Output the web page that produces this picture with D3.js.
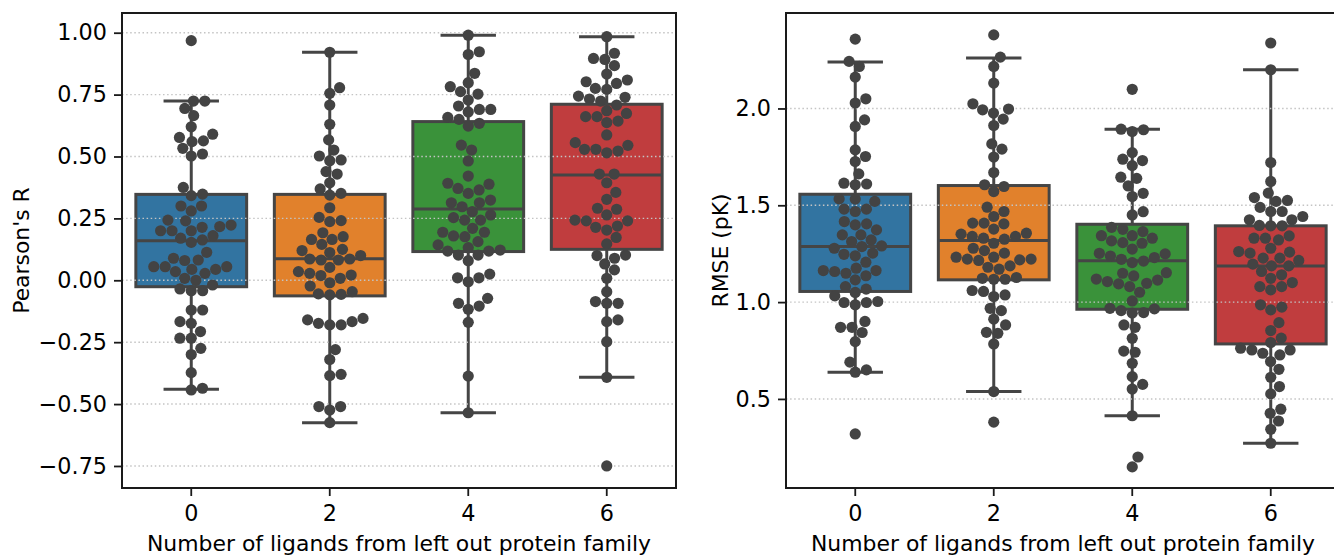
<!DOCTYPE html>
<html><head><meta charset="utf-8">
<script src="https://cdn.jsdelivr.net/npm/d3@7"></script>
<style>
body{margin:0;background:#fff}
svg{display:block}
text{font-family:"DejaVu Sans",sans-serif;fill:#000}
</style>
</head><body>
<svg id="chart" width="1334" height="558"></svg>
<script>
const categories = ["0", "2", "4", "6"];
const boxColors = ["#3274a1", "#e1812c", "#3a923a", "#c03d3e"];
const pearsonTicks = [-0.75, -0.5, -0.25, 0, 0.25, 0.5, 0.75, 1.0];
const rmseTicks = [0.5, 1.0, 1.5, 2.0];
const xLabel = "Number of ligands from left out protein family";

const pearson0 = [0.968,0.724,0.724,0.694,0.665,0.62,0.59,0.577,0.563,0.56,0.533,0.51,0.502,0.375,0.348,0.342,0.30,0.30,0.28,0.243,0.24,0.223,0.217,0.214,0.20,0.20,0.20,0.18,0.17,0.163,0.153,0.113,0.089,0.082,0.08,0.055,0.055,0.055,0.044,0.044,0.035,0.028,0.008,0.0,-0.019,-0.035,-0.042,-0.042,-0.12,-0.12,-0.167,-0.174,-0.207,-0.234,-0.234,-0.275,-0.30,-0.373,-0.436,-0.443];
const pearson2 = [0.921,0.778,0.755,0.708,0.63,0.567,0.526,0.502,0.486,0.483,0.439,0.429,0.394,0.369,0.351,0.344,0.293,0.254,0.241,0.237,0.192,0.176,0.165,0.165,0.145,0.125,0.12,0.112,0.1,0.086,0.086,0.082,0.082,0.052,0.035,0.028,0.021,0.019,0.008,-0.01,-0.023,-0.046,-0.055,-0.057,-0.059,-0.154,-0.16,-0.167,-0.174,-0.18,-0.18,-0.28,-0.32,-0.38,-0.385,-0.51,-0.51,-0.524,-0.575];
const pearson4 = [0.99,0.923,0.912,0.836,0.798,0.782,0.762,0.752,0.728,0.704,0.69,0.69,0.68,0.658,0.65,0.634,0.623,0.546,0.526,0.482,0.421,0.392,0.388,0.371,0.365,0.351,0.324,0.313,0.313,0.297,0.277,0.264,0.253,0.243,0.243,0.21,0.194,0.194,0.179,0.176,0.156,0.143,0.132,0.122,0.118,0.118,0.102,0.102,0.079,0.025,0.01,0.01,-0.006,-0.073,-0.093,-0.104,-0.117,-0.17,-0.387,-0.535];
const pearson6 = [0.984,0.917,0.896,0.892,0.867,0.833,0.809,0.802,0.795,0.775,0.771,0.744,0.739,0.732,0.724,0.708,0.685,0.674,0.661,0.661,0.643,0.637,0.587,0.556,0.545,0.529,0.529,0.522,0.515,0.429,0.429,0.394,0.355,0.327,0.291,0.287,0.264,0.243,0.24,0.24,0.219,0.214,0.203,0.173,0.147,0.102,0.1,0.089,0.066,0.042,0.008,-0.046,-0.086,-0.093,-0.093,-0.16,-0.167,-0.248,-0.392,-0.75];

const rmse0 = [2.358,2.243,2.217,2.162,2.05,2.028,1.941,1.907,1.786,1.752,1.726,1.662,1.614,1.61,1.606,1.533,1.532,1.52,1.48,1.48,1.468,1.416,1.404,1.399,1.373,1.347,1.347,1.321,1.313,1.29,1.287,1.278,1.253,1.247,1.239,1.206,1.175,1.163,1.163,1.158,1.149,1.136,1.115,1.08,1.067,1.05,1.032,1.003,0.998,0.998,0.986,0.9,0.87,0.87,0.843,0.796,0.69,0.65,0.638,0.319];
const rmse2 = [2.38,2.265,2.217,2.131,2.024,1.997,1.993,1.976,1.945,1.912,1.817,1.79,1.749,1.669,1.606,1.597,1.571,1.49,1.468,1.442,1.408,1.408,1.404,1.377,1.356,1.351,1.339,1.339,1.33,1.325,1.304,1.278,1.266,1.253,1.232,1.232,1.222,1.222,1.218,1.215,1.187,1.18,1.17,1.127,1.123,1.118,1.118,1.06,1.055,1.037,1.029,0.968,0.956,0.912,0.882,0.844,0.839,0.784,0.538,0.38];
const rmse4 = [2.099,1.893,1.89,1.881,1.772,1.738,1.731,1.705,1.645,1.639,1.6,1.562,1.545,1.467,1.45,1.386,1.376,1.364,1.343,1.343,1.33,1.316,1.307,1.304,1.274,1.252,1.249,1.238,1.23,1.221,1.212,1.204,1.152,1.149,1.135,1.119,1.114,1.106,1.097,1.094,1.08,1.051,1.006,0.968,0.965,0.956,0.946,0.943,0.882,0.87,0.813,0.747,0.741,0.684,0.615,0.575,0.551,0.413,0.2,0.149];
const rmse6 = [2.338,2.2,1.721,1.623,1.563,1.54,1.525,1.52,1.489,1.468,1.468,1.442,1.425,1.425,1.396,1.394,1.394,1.342,1.33,1.33,1.321,1.278,1.261,1.258,1.253,1.227,1.227,1.215,1.196,1.187,1.187,1.158,1.141,1.123,1.101,1.08,1.08,1.063,0.986,0.974,0.96,0.894,0.853,0.814,0.791,0.762,0.753,0.753,0.736,0.727,0.693,0.653,0.612,0.564,0.526,0.447,0.426,0.386,0.343,0.271];

// box statistics
const pearsonQ1  = [-0.026, -0.063, 0.116, 0.125];
const pearsonMed = [0.16, 0.087, 0.288, 0.425];
const pearsonQ3  = [0.347, 0.347, 0.641, 0.711];
const pearsonLo  = [-0.44, -0.575, -0.535, -0.392];
const pearsonHi  = [0.724, 0.921, 0.99, 0.984];

const rmseQ1  = [1.055, 1.115, 0.963, 0.784];
const rmseMed = [1.287, 1.318, 1.214, 1.187];
const rmseQ3  = [1.557, 1.602, 1.402, 1.394];
const rmseLo  = [0.638, 0.538, 0.413, 0.271];
const rmseHi  = [2.24, 2.26, 1.893, 2.2];

const svg = d3.select("#chart");
const LINE = "#454545", POINT = "#434343";

function swarm(values, cx, y, r) {
  const sorted = values.slice().sort((a, b) => a - b);
  const placed = [];
  const d = 2 * r;
  for (const v of sorted) {
    const py = y(v);
    const nb = placed.filter(p => Math.abs(p.y - py) < d);
    const cands = [cx];
    for (const n of nb) {
      const dy = py - n.y;
      const dx = Math.sqrt(Math.max(0, d * d - dy * dy));
      cands.push(n.x + dx, n.x - dx);
    }
    cands.sort((a, b) => Math.abs(a - cx) - Math.abs(b - cx));
    let chosen = cands[cands.length - 1];
    for (const c of cands) {
      if (nb.every(n => Math.hypot(n.x - c, n.y - py) >= d - 1e-6)) { chosen = c; break; }
    }
    placed.push({ x: chosen, y: py, v });
  }
  return placed;
}

function panel(o) {
  const g = svg.append("g");
  const x = d3.scaleBand().domain(categories).range([o.x0, o.x1]).paddingInner(0).paddingOuter(0);
  const y = d3.scaleLinear().domain(o.domain).range([o.y1, o.y0]);
  const bw = x.bandwidth() * 0.8;
  const cx = c => x(c) + x.bandwidth() / 2;

  categories.forEach((c, i) => {
    const xc = cx(c);
    g.append("line").attr("x1", xc).attr("x2", xc).attr("y1", y(o.q3[i])).attr("y2", y(o.hi[i]))
      .attr("stroke", LINE).attr("stroke-width", 3);
    g.append("line").attr("x1", xc).attr("x2", xc).attr("y1", y(o.q1[i])).attr("y2", y(o.lo[i]))
      .attr("stroke", LINE).attr("stroke-width", 3);
    [o.hi[i], o.lo[i]].forEach(v => {
      g.append("line").attr("x1", xc - bw / 4).attr("x2", xc + bw / 4).attr("y1", y(v)).attr("y2", y(v))
        .attr("stroke", LINE).attr("stroke-width", 3);
    });
    g.append("rect").attr("x", xc - bw / 2).attr("width", bw)
      .attr("y", y(o.q3[i])).attr("height", y(o.q1[i]) - y(o.q3[i]))
      .attr("fill", boxColors[i]).attr("stroke", LINE).attr("stroke-width", 3);
    g.append("line").attr("x1", xc - bw / 2).attr("x2", xc + bw / 2).attr("y1", y(o.med[i])).attr("y2", y(o.med[i]))
      .attr("stroke", LINE).attr("stroke-width", 3);
  });

  g.append("g").selectAll("line").data(o.ticks).join("line")
    .attr("x1", o.x0).attr("x2", o.x1).attr("y1", d => y(d)).attr("y2", d => y(d))
    .attr("stroke", "#c4c4c4").attr("stroke-width", 1.4).attr("stroke-dasharray", "1.5,2.6");

  o.series.forEach((vals, i) => {
    const pts = swarm(vals, cx(categories[i]), y, 5.7);
    g.append("g").selectAll("circle").data(pts).join("circle")
      .attr("cx", d => d.x).attr("cy", d => d.y).attr("r", 5.6).attr("fill", POINT);
  });

  g.append("rect").attr("x", o.x0).attr("y", o.y0).attr("width", o.x1 - o.x0).attr("height", o.y1 - o.y0)
    .attr("fill", "none").attr("stroke", "#1a1a1a").attr("stroke-width", 2);

  const ya = g.append("g").attr("transform", `translate(${o.x0},0)`)
    .call(d3.axisLeft(y).tickValues(o.ticks).tickFormat(d3.format(o.fmt)).tickSize(8).tickPadding(7));
  ya.select(".domain").remove();
  ya.selectAll(".tick line").attr("stroke", "#1a1a1a").attr("stroke-width", 1.8);
  ya.selectAll(".tick text").attr("font-size", 22.3).attr("font-family", "DejaVu Sans");

  const xa = g.append("g").attr("transform", `translate(0,${o.y1})`)
    .call(d3.axisBottom(x).tickSize(8).tickPadding(9));
  xa.select(".domain").remove();
  xa.selectAll(".tick line").attr("stroke", "#1a1a1a").attr("stroke-width", 1.8);
  xa.selectAll(".tick text").attr("font-size", 22.3).attr("font-family", "DejaVu Sans");

  g.append("text").attr("x", (o.x0 + o.x1) / 2).attr("y", 551)
    .attr("text-anchor", "middle").attr("font-size", 21.9).text(xLabel);
  g.append("text").attr("transform", `translate(${o.ylx},${(o.y0 + o.y1) / 2}) rotate(-90)`)
    .attr("text-anchor", "middle").attr("dominant-baseline", "central").attr("font-size", 21.9).text(o.ylabel);
}

panel({ x0: 122, x1: 676, y0: 13, y1: 488, domain: [-0.839, 1.0796], ticks: pearsonTicks, fmt: ".2f",
  series: [pearson0, pearson2, pearson4, pearson6],
  q1: pearsonQ1, med: pearsonMed, q3: pearsonQ3, lo: pearsonLo, hi: pearsonHi,
  ylabel: "Pearson's R", ylx: 21 });

panel({ x0: 786, x1: 1340, y0: 13, y1: 488, domain: [0.040, 2.493], ticks: rmseTicks, fmt: ".1f",
  series: [rmse0, rmse2, rmse4, rmse6],
  q1: rmseQ1, med: rmseMed, q3: rmseQ3, lo: rmseLo, hi: rmseHi,
  ylabel: "RMSE (pK)", ylx: 720 });
</script>
</body></html>
